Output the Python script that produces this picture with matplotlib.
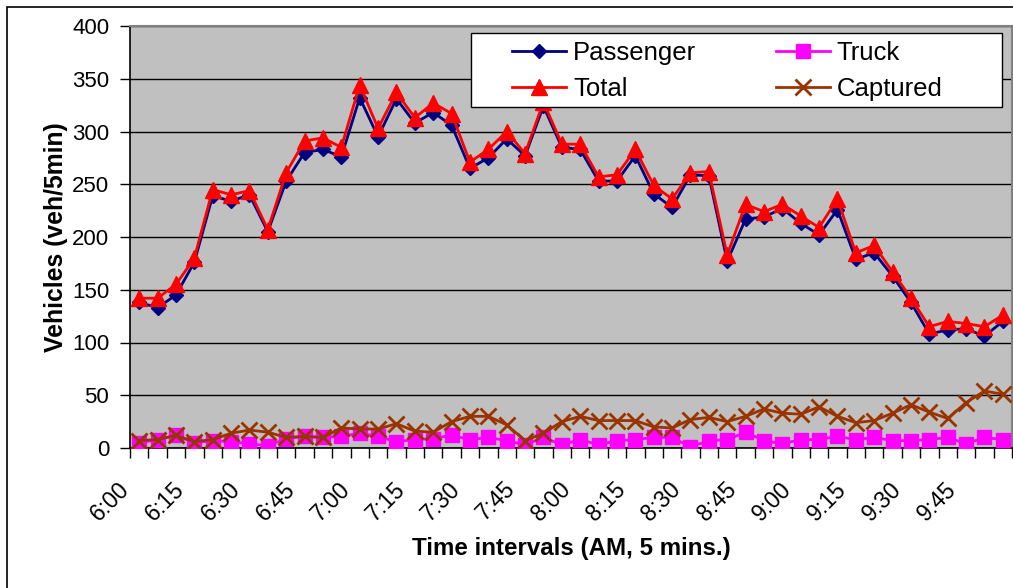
import matplotlib
matplotlib.use("Agg")
import matplotlib.pyplot as plt
import matplotlib.transforms as mtransforms
from matplotlib.patches import Rectangle

plt.rcParams['font.family'] = ['Liberation Sans', 'DejaVu Sans']

times = ['6:00', '6:05', '6:10', '6:15', '6:20', '6:25', '6:30', '6:35', '6:40', '6:45', '6:50', '6:55',
         '7:00', '7:05', '7:10', '7:15', '7:20', '7:25', '7:30', '7:35', '7:40', '7:45', '7:50', '7:55',
         '8:00', '8:05', '8:10', '8:15', '8:20', '8:25', '8:30', '8:35', '8:40', '8:45', '8:50', '8:55',
         '9:00', '9:05', '9:10', '9:15', '9:20', '9:25', '9:30', '9:35', '9:40', '9:45', '9:50', '9:55']

passenger = [138, 133, 145, 176, 239, 234, 240, 205, 253, 280, 283, 276,
             332, 295, 331, 308, 318, 306, 265, 275, 293, 277, 324, 285,
             283, 253, 253, 277, 241, 228, 259, 258, 177, 217, 219, 227,
             213, 202, 226, 179, 185, 163, 138, 108, 112, 113, 106, 120]

total = [142, 142, 155, 180, 245, 240, 244, 207, 261, 291, 294, 285,
         344, 303, 337, 313, 327, 317, 271, 283, 300, 279, 328, 288,
         288, 257, 259, 283, 249, 236, 261, 262, 183, 231, 224, 231,
         220, 209, 236, 185, 192, 167, 142, 115, 120, 118, 115, 126]

truck = [5, 8, 12, 5, 7, 6, 4, 2, 9, 11, 10, 11,
         14, 11, 6, 8, 9, 12, 8, 10, 7, 3, 10, 3,
         8, 3, 7, 8, 10, 10, 1, 7, 8, 15, 7, 4,
         8, 8, 11, 8, 10, 7, 7, 8, 10, 4, 10, 8]

captured = [7, 8, 12, 6, 8, 14, 17, 15, 10, 11, 10, 19,
            18, 18, 23, 16, 15, 25, 30, 30, 22, 7, 14, 25,
            30, 26, 26, 26, 20, 19, 27, 29, 25, 30, 37, 33,
            32, 39, 30, 24, 26, 33, 41, 34, 28, 43, 54, 51]

tick_labels = ['6:00', '6:15', '6:30', '6:45', '7:00', '7:15', '7:30', '7:45',
               '8:00', '8:15', '8:30', '8:45', '9:00', '9:15', '9:30', '9:45']

W, H = 1013, 588
fig = plt.figure(figsize=(W / 100, H / 100), dpi=100)
fig.patches.append(Rectangle((7 / W, -0.1), 1.2, 1 - 7 / H + 0.1, transform=fig.transFigure,
                             fill=False, edgecolor='black', linewidth=1.2, zorder=0))

ax = fig.add_axes([130 / W, 1 - 448 / H, 882 / W, 422 / H])
ax.set_facecolor('#C0C0C0')

x = list(range(len(times)))
lp, = ax.plot(x, passenger, color='#000080', marker='D', markersize=7.5, linewidth=2, label='Passenger', zorder=3)
lt, = ax.plot(x, truck, color='#FF00FF', marker='s', markersize=10.5, linewidth=2, label='Truck', zorder=3)
ltot, = ax.plot(x, total, color='#FF0000', marker='^', markersize=11, linewidth=2, label='Total', zorder=4)
lc, = ax.plot(x, captured, color='#993300', marker='x', markersize=11, markeredgewidth=2, linewidth=2,
              label='Captured', zorder=5)

ax.set_xlim(-0.5, len(times) - 0.5)
ax.set_ylim(0, 400)
ax.set_yticks(range(0, 401, 50))
ax.yaxis.grid(True, color='black', linewidth=1)
ax.set_axisbelow(True)

ax.set_xticks([i - 0.5 for i in range(len(times) + 1)], minor=True)
ax.set_xticks(list(range(0, len(times), 3)))
ax.set_xticklabels(tick_labels, rotation=45, ha='right', va='center', rotation_mode='anchor', fontsize=16.5)
ax.tick_params(axis='x', which='major', length=0, pad=27)
ax.tick_params(axis='x', which='minor', length=7, width=1, direction='out', color='black')
ax.tick_params(axis='y', length=7, width=1, direction='out', labelsize=16, pad=8)
offset = mtransforms.ScaledTranslation(-13 / 100, 0, fig.dpi_scale_trans)
for lab in ax.get_xticklabels():
    lab.set_transform(lab.get_transform() + offset)

for side in ['top', 'right']:
    ax.spines[side].set_color('#808080')
    ax.spines[side].set_linewidth(1.5)
for side in ['left', 'bottom']:
    ax.spines[side].set_color('black')
    ax.spines[side].set_linewidth(1.2)

fig.text(571 / W, 1 - 548 / H, 'Time intervals (AM, 5 mins.)', fontsize=17.4, fontweight='bold',
         ha='center', va='center')
fig.text(56.5 / W, 1 - 237 / H, 'Vehicles (veh/5min)', fontsize=17.8, fontweight='bold',
         ha='center', va='center', rotation=90)

# legend box (white, drawn over the lines)
ax.add_patch(Rectangle((471 / W, 1 - 107 / H), 531 / W, 74 / H, transform=fig.transFigure,
                       facecolor='white', edgecolor='black', linewidth=1, zorder=6, clip_on=False))
leg = ax.legend(handles=[lp, ltot, lt, lc], ncol=2, loc='center left',
                bbox_to_anchor=(512 / W, 1 - 71 / H), bbox_transform=fig.transFigure,
                fontsize=18.5, frameon=False, handlelength=2.1, columnspacing=3.1, borderpad=0,
                labelspacing=0.5, handletextpad=0.27, borderaxespad=0)
leg.set_zorder(7)

fig.savefig('out.png', dpi=100)
